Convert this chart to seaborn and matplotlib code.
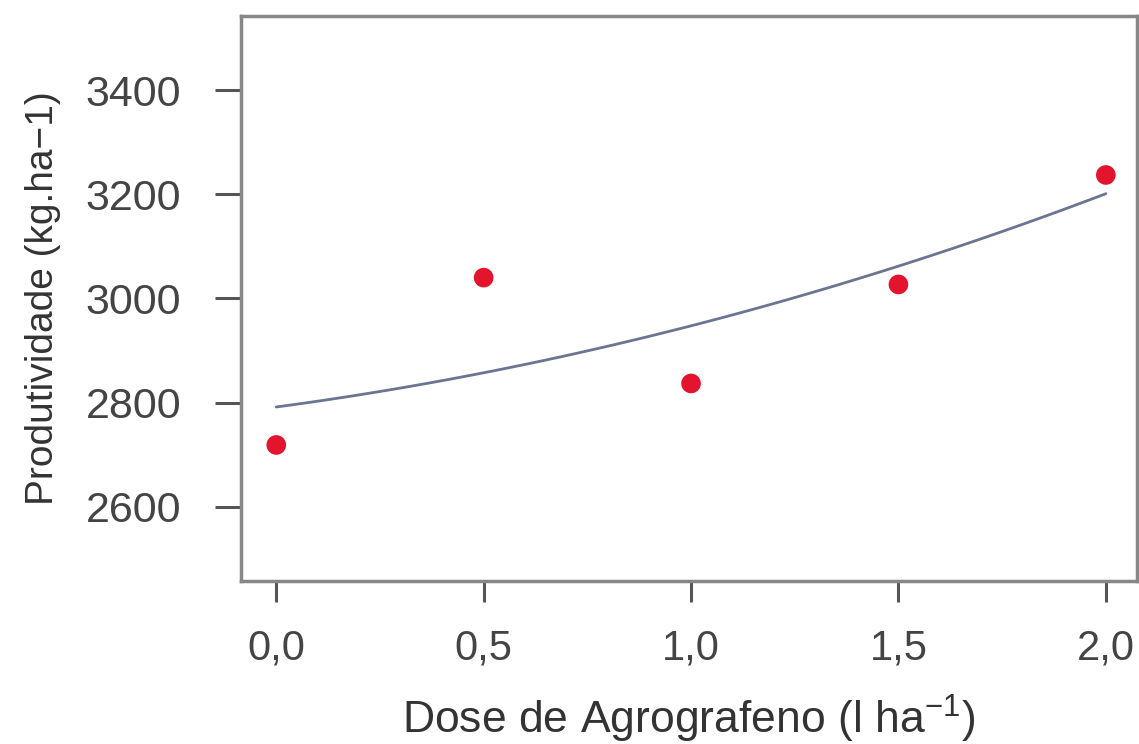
import numpy as np
import pandas as pd
import matplotlib
matplotlib.use("Agg")
import matplotlib.pyplot as plt
import seaborn as sns

# valores
dose = [0.0, 0.5, 1.0, 1.5, 2.0]
produtividade = [2719, 3040, 2837, 3027, 3237]
xticks = [0.0, 0.5, 1.0, 1.5, 2.0]
xtick_labels = ["0,0", "0,5", "1,0", "1,5", "2,0"]
yticks = [2600, 2800, 3000, 3200, 3400]

df = pd.DataFrame({"dose": dose, "prod": produtividade})

sns.set_style("white")
plt.rcParams["font.family"] = ["Liberation Sans", "DejaVu Sans"]
plt.rcParams["mathtext.fontset"] = "custom"
plt.rcParams["mathtext.rm"] = "Liberation Sans"
plt.rcParams["mathtext.it"] = "Liberation Sans"

fig = plt.figure(figsize=(11.39, 7.44), dpi=100)
ax = fig.add_axes([0.2116, 0.2191, 0.7866, 0.7594])

# curva ajustada (polinomio de 2o grau)
sns.regplot(data=df, x="dose", y="prod", order=2, ci=None, scatter=False,
            line_kws={"color": "#6a7592", "lw": 2.0}, ax=ax)
sns.scatterplot(data=df, x="dose", y="prod", color="#e3142d", s=200,
                edgecolor="none", ax=ax, zorder=3)

ax.set_xlim(-0.085, 2.075)
ax.set_ylim(2458, 3542)
ax.set_xticks(xticks)
ax.set_xticklabels(xtick_labels)
ax.set_yticks(yticks)

gray = "#878787"
for sp in ax.spines.values():
    sp.set_color(gray)
    sp.set_linewidth(2.5)

ax.tick_params(axis="x", direction="out", length=15, width=2.2, color="#555555",
               pad=19, labelsize=30, labelcolor="#444444", bottom=True)
ax.tick_params(axis="y", direction="out", length=19, width=2.2, color="#555555",
               pad=24, labelsize=31, labelcolor="#444444", left=True)

ax.set_xlabel(r"Dose de Agrografeno (l ha$^{-1}$)", fontsize=32, color="#333333", labelpad=18)
ax.set_ylabel("Produtividade (kg.ha\u22121)", fontsize=28, color="#333333", labelpad=18)

fig.savefig("out.png", dpi=100)
